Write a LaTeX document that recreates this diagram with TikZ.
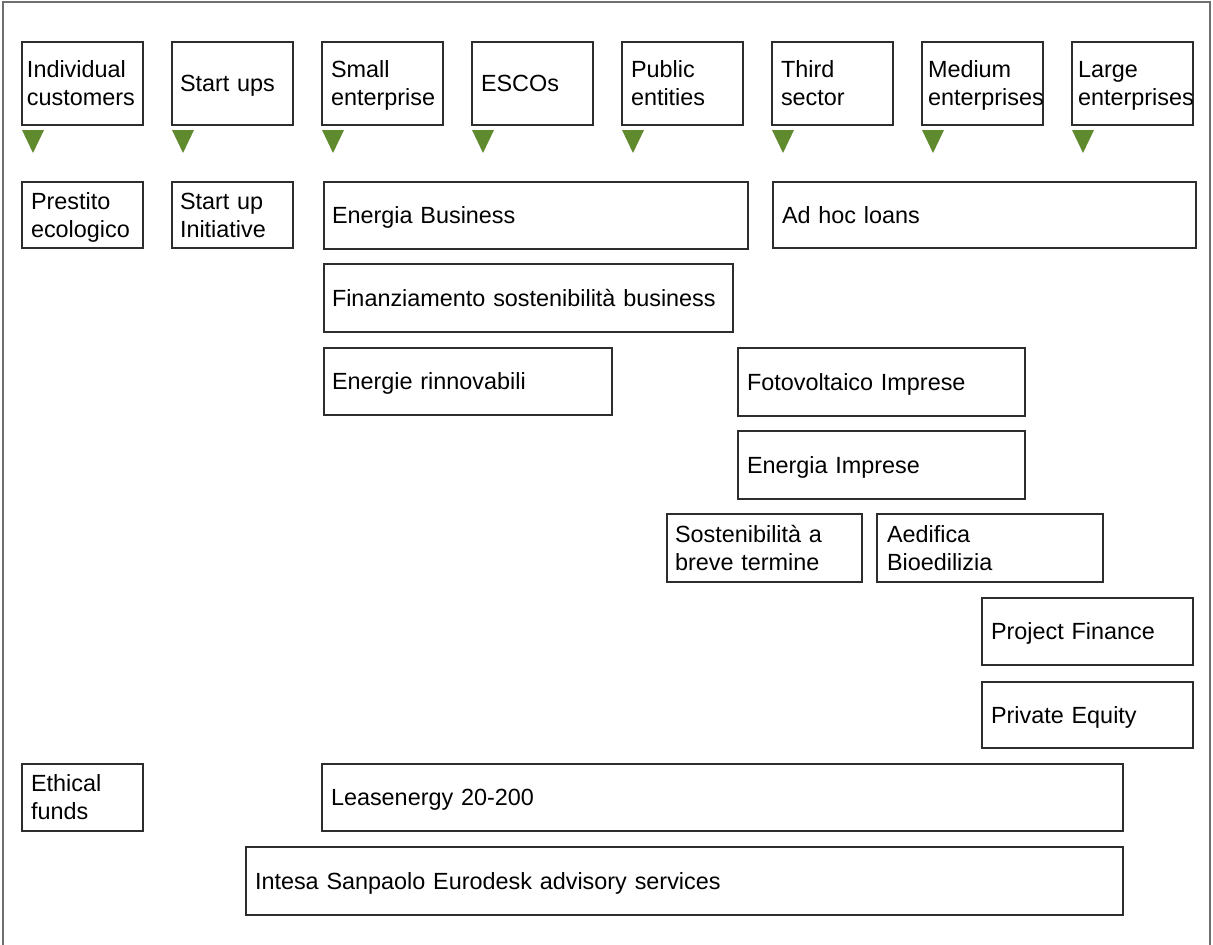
\documentclass[tikz,border=0pt]{standalone}
\usepackage{fontspec}
\setmainfont{Liberation Sans}
\definecolor{trig}{RGB}{96,138,46}
\definecolor{boxc}{RGB}{45,45,45}
\definecolor{framec}{RGB}{110,110,110}
\newcommand\bxstrut{\rule[-5.6pt]{0pt}{28pt}}
\begin{document}
\begin{tikzpicture}[x=1pt,y=-1pt,
  bx/.style={draw=boxc, line width=1.1pt, anchor=north west, inner xsep=9pt, inner ysep=0pt,
    align=left, outer sep=0pt, font=\fontsize{23.4}{28}\selectfont,
    execute at begin node=\bxstrut, execute at end node=\bxstrut},
  trimark/.style={fill=trig, draw=none},
  framel/.style={draw=framec, line width=1.2pt}]
\useasboundingbox (0,0) rectangle (1213,945);
\draw[framel] (3,960) -- (3,2) -- (1210,2) -- (1210,960);

% customer segments
\node[bx, inner xsep=5pt, text width=111pt, minimum height=83pt] (c1) at (22,42) {Individual\\customers};
\node[bx, inner xsep=8pt, text width=105pt, minimum height=83pt] (c2) at (172,42) {Start ups};
\node[bx, text width=103pt, minimum height=83pt] (c3) at (322,42) {Small\\enterprise};
\node[bx, text width=103pt, minimum height=83pt] (c4) at (472,42) {ESCOs};
\node[bx, text width=103pt, minimum height=83pt] (c5) at (622,42) {Public\\entities};
\node[bx, text width=103pt, minimum height=83pt] (c6) at (772,42) {Third\\sector};
\node[bx, inner xsep=6pt, text width=109pt, minimum height=83pt] (c7) at (922,42) {Medium\\enterprises};
\node[bx, inner xsep=6pt, text width=109pt, minimum height=83pt] (c8) at (1072,42) {Large\\enterprises};

\foreach \n in {c1,c2,c3,c4,c5,c6,c7,c8}
  \fill[trimark] ([yshift=-5pt]\n.south west) -- ++(22,0) -- ++(-11,23) -- cycle;

% products
\node[bx, text width=103pt, minimum height=66pt] (p1) at (22,182) {Prestito\\ecologico};
\node[bx, inner xsep=8pt, text width=105pt, minimum height=66pt] (p2) at (172,182) {Start up\\Initiative};
\node[bx, inner xsep=8pt, text width=408pt, minimum height=67pt] (p3) at (324,182) {Energia Business};
\node[bx, text width=405pt, minimum height=66pt] (p4) at (773,182) {Ad hoc loans};
\node[bx, inner xsep=8pt, text width=393pt, minimum height=68pt] (p5) at (324,264) {Finanziamento sostenibilità business};
\node[bx, inner xsep=8pt, text width=272pt, minimum height=67pt] (p6) at (324,348) {Energie rinnovabili};
\node[bx, text width=269pt, minimum height=68pt] (p7) at (738,348) {Fotovoltaico Imprese};
\node[bx, text width=269pt, minimum height=68pt] (p8) at (738,431) {Energia Imprese};
\node[bx, inner xsep=8pt, text width=179pt, minimum height=68pt] (p9) at (667,514) {Sostenibilità a\\breve termine};
\node[bx, inner xsep=10pt, text width=206pt, minimum height=68pt] (p10) at (877,514) {Aedifica\\Bioedilizia};
\node[bx, text width=193pt, minimum height=67pt] (p11) at (982,598) {Project Finance};
\node[bx, text width=193pt, minimum height=66pt] (p12) at (982,682) {Private Equity};
\node[bx, text width=103pt, minimum height=67pt] (p13) at (22,764) {Ethical\\funds};
\node[bx, text width=783pt, minimum height=67pt] (p14) at (322,764) {Leasenergy 20-200};
\node[bx, text width=859pt, minimum height=68pt] (p15) at (246,847) {Intesa Sanpaolo Eurodesk advisory services};
\end{tikzpicture}
\end{document}
